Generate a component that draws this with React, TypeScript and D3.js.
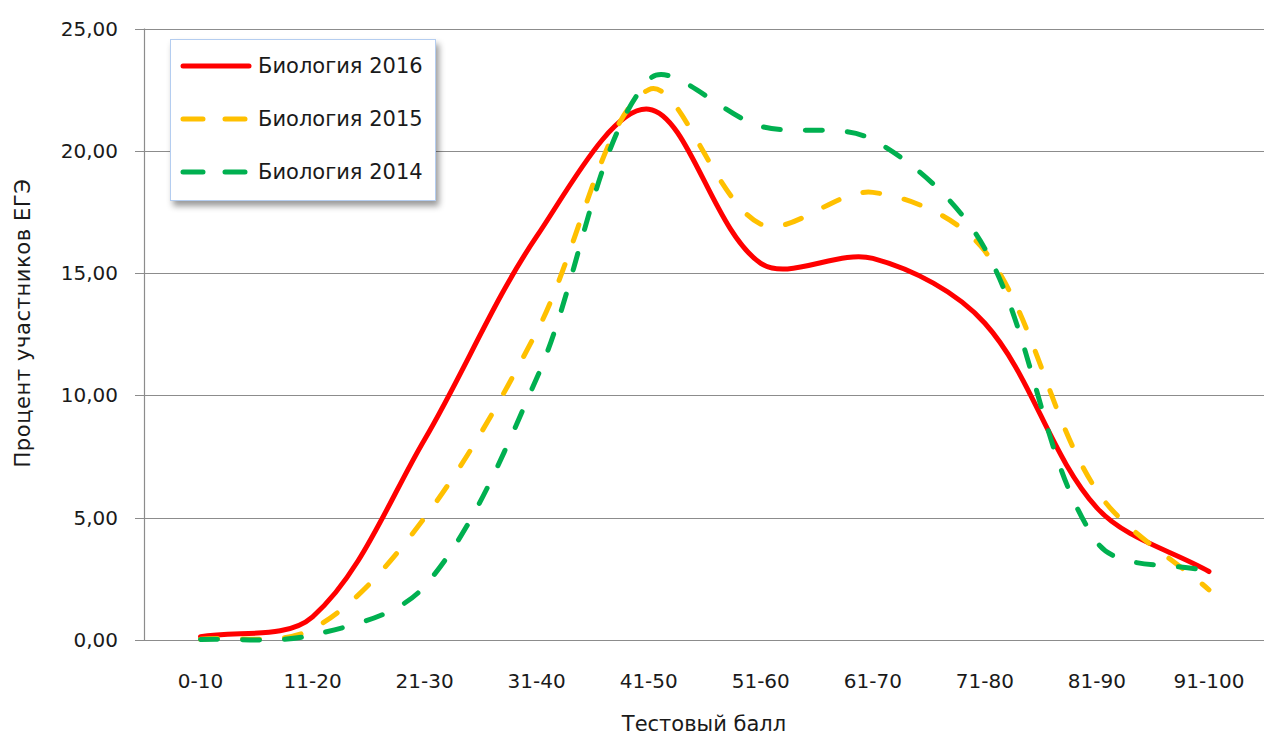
import React from 'react';
import * as d3 from 'd3';

const categories = ['0-10', '11-20', '21-30', '31-40', '41-50', '51-60', '61-70', '71-80', '81-90', '91-100'];

const bio2016 = [0.13, 0.95, 8.2, 16.5, 21.7, 15.4, 15.6, 12.95, 5.4, 2.8];
const bio2015 = [0.03, 0.45, 5.0, 12.6, 22.5, 17.0, 18.3, 15.9, 6.1, 2.05];
const bio2014 = [0.02, 0.2, 2.2, 10.7, 22.9, 21.0, 20.45, 16.0, 4.0, 2.8];

const yTicks = [0, 5, 10, 15, 20, 25];

const seriesList = [
    { name: 'Биология 2016', values: bio2016, color: '#FF0000', dash: undefined },
    { name: 'Биология 2015', values: bio2015, color: '#FFC000', dash: '17 25' },
    { name: 'Биология 2014', values: bio2014, color: '#00B050', dash: '17 25' },
];

const WIDTH = 1264,
    HEIGHT = 738;

const PLOT = {
    LEFT: 144.5,
    RIGHT: 1265,
    TOP: 28.5,
    BOTTOM: 640
};

const FONT = '"DejaVu Sans", sans-serif';
const TEXT_COLOR = '#1a1a1a';
const GRID_COLOR = '#8c8c8c';

const fmt = (v: number) => v.toFixed(2).replace('.', ',');

// Smoothed line like the spreadsheet one: bezier segments whose handles are
// weighted by neighbouring segment lengths, so short steps don't overshoot much
const curveSmooth = (context: any) => {
    let pts: [number, number][] = [];
    const dist = (a: [number, number], b: [number, number]) => Math.hypot(b[0] - a[0], b[1] - a[1]);
    return {
        areaStart() { },
        areaEnd() { },
        lineStart() { pts = []; },
        point(x: number, y: number) { pts.push([+x, +y]); },
        lineEnd() {
            const n = pts.length;
            if (!n) return;
            context.moveTo(pts[0][0], pts[0][1]);
            for (let i = 0; i < n - 1; i++) {
                const p0 = pts[Math.max(i - 1, 0)], p1 = pts[i], p2 = pts[i + 1], p3 = pts[Math.min(i + 2, n - 1)];
                const d01 = dist(p0, p1), d12 = dist(p1, p2), d23 = dist(p2, p3);
                const f1 = d01 + d12 > 0 ? d12 / (3 * (d01 + d12)) : 0,
                    f2 = d12 + d23 > 0 ? d12 / (3 * (d12 + d23)) : 0;
                context.bezierCurveTo(
                    p1[0] + (p2[0] - p0[0]) * f1, p1[1] + (p2[1] - p0[1]) * f1,
                    p2[0] - (p3[0] - p1[0]) * f2, p2[1] - (p3[1] - p1[1]) * f2,
                    p2[0], p2[1]);
            }
        }
    };
};

export default function App() {
    const x = d3.scaleBand<string>().domain(categories).range([PLOT.LEFT, PLOT.RIGHT]);
    const y = d3.scaleLinear().domain([0, 25]).range([PLOT.BOTTOM, PLOT.TOP]);
    const cx = (c: string) => (x(c) as number) + x.bandwidth() / 2;

    const line = d3.line<number>()
        .x((_, i) => cx(categories[i]))
        .y(v => y(v))
        .curve(curveSmooth as any);

    return (
        <svg width={WIDTH} height={HEIGHT} style={{ position: 'absolute', left: 0, top: 0, background: '#fff' }}
            fontFamily={FONT}>
            <defs>
                <filter id='legend-shadow' x='-10%' y='-10%' width='130%' height='140%'>
                    <feDropShadow dx='3' dy='5' stdDeviation='3' floodColor='#000' floodOpacity='0.4' />
                </filter>
            </defs>

            {/* grid lines + ticks */}
            <g>
                {yTicks.map(t => (
                    <g key={`grid-${t}`}>
                        <line x1={135} x2={PLOT.RIGHT} y1={Math.round(y(t)) + 0.5} y2={Math.round(y(t)) + 0.5}
                            stroke={GRID_COLOR} strokeWidth={1.2} />
                        <text x={118} y={y(t) + 7} textAnchor='end' fontSize={20} fill={TEXT_COLOR}>{fmt(t)}</text>
                    </g>
                ))}
                <line x1={PLOT.LEFT} x2={PLOT.LEFT} y1={PLOT.TOP} y2={PLOT.BOTTOM} stroke={GRID_COLOR} strokeWidth={1.2} />
            </g>

            {/* x labels */}
            <g>
                {categories.map(c => (
                    <text key={`xl-${c}`} x={cx(c)} y={688} textAnchor='middle' fontSize={20} fill={TEXT_COLOR}>{c}</text>
                ))}
            </g>

            {/* axis titles */}
            <text x={704} y={731} textAnchor='middle' fontSize={21} fill={TEXT_COLOR}>Тестовый балл</text>
            <text transform={`translate(30, 323) rotate(-90)`} textAnchor='middle' fontSize={21} letterSpacing={0.6}
                fill={TEXT_COLOR}>
                Процент участников ЕГЭ
            </text>

            {/* series */}
            <g fill='none' strokeLinecap='round' strokeLinejoin='round'>
                {seriesList.map(s => (
                    <path key={`line-${s.name}`} d={line(s.values) || ''} stroke={s.color} strokeWidth={5}
                        strokeDasharray={s.dash} />
                ))}
            </g>

            {/* legend */}
            <g>
                <rect x={170.5} y={39.5} width={265} height={161} fill='#fff' stroke='#b4cdf0' strokeWidth={1}
                    filter='url(#legend-shadow)' />
                {seriesList.map((s, i) => {
                    const ly = 66 + i * 53;
                    return (
                        <g key={`leg-${s.name}`}>
                            <line x1={183} x2={249} y1={ly} y2={ly} stroke={s.color} strokeWidth={5}
                                strokeLinecap='round' strokeDasharray={s.dash ? '20 22' : undefined} />
                            <text x={258} y={ly + 7} fontSize={21} fill={TEXT_COLOR}>{s.name}</text>
                        </g>
                    );
                })}
            </g>
        </svg>
    );
}
